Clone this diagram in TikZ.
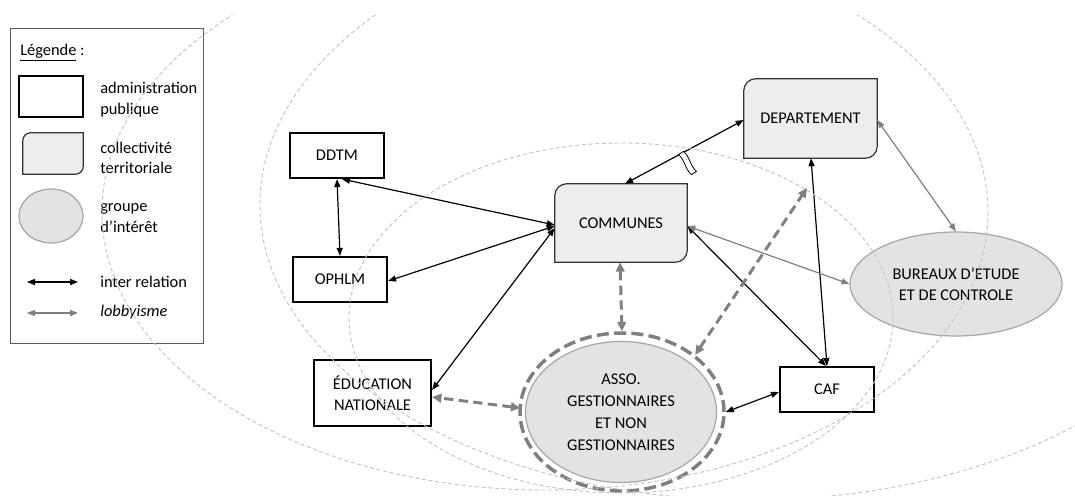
\documentclass[tikz,border=0pt]{standalone}
\usepackage{fontspec}
\setmainfont{Carlito}
\usetikzlibrary{arrows.meta,calc,shapes.geometric}
\newdimen\pxu \pxu=0.75pt
\definecolor{collfill}{HTML}{EDEDED}
\definecolor{grpfill}{HTML}{E3E3E3}
\definecolor{lobby}{HTML}{7F7F7F}
\definecolor{bgarc}{HTML}{C4C4C4}
\newcommand\mycollbox[6]{%
  \node[minimum width=#4\pxu,minimum height=#5\pxu,inner sep=0pt] (#1) at (#2,#3) {};
  \draw[collline] (#1.south west) -- ($(#1.north west)+(0,#6)$) arc[start angle=180,end angle=270,radius=#6] -- (#1.north east) -- ($(#1.south east)+(0,-#6)$) arc[start angle=0,end angle=90,radius=#6] -- cycle;}
\begin{document}
\begin{tikzpicture}[x=0.75pt,y=-0.75pt,
  every node/.style={font=\fontsize{12.3}{15.5}\selectfont},
  admin/.style={draw=black,line width=1.6pt,fill=white,inner sep=0pt,align=center},
  collline/.style={draw=black!80,line width=0.9pt,fill=collfill},
  grp/.style={ellipse,draw=black!35,line width=0.9pt,fill=grpfill,inner sep=0pt,align=center},
  rel/.style={black,line width=0.9pt,{Triangle[length=6pt,width=4.5pt]}-{Triangle[length=6pt,width=4.5pt]}},
  lob/.style={lobby,line width=0.9pt,{Triangle[length=6pt,width=4.5pt]}-{Triangle[length=6pt,width=4.5pt]}},
  lobd/.style={lobby,line width=2.2pt,dash pattern=on 7pt off 4pt,{Triangle[length=7pt,width=6.5pt]}-{Triangle[length=7pt,width=6.5pt]}},
  bg/.style={bgarc,line width=0.7pt,dash pattern=on 3pt off 2pt},
  lab/.style={anchor=west,align=left,inner sep=0pt},
  txt/.style={align=center,inner sep=0pt},
]
\fill[white] (0,0) rectangle (1075,496);
\useasboundingbox (0,0) rectangle (1075,496);

% ---------- legend ----------
\node[draw=black!65,line width=0.6pt,minimum width=193\pxu,minimum height=315\pxu,inner sep=0pt] (legend) at (106.5,185.5) {};
\node[lab] (lgtitle) at (20,53) {\underline{Légende} :};
\node[admin,minimum width=64\pxu,minimum height=41\pxu] (lgadmin) at (51,96.5) {};
\node[lab] (lgadmintxt) at (100,99.5) {administration\\publique};
\mycollbox{lgcoll}{53}{153.5}{60}{41}{8}
\node[lab] (lgcolltxt) at (100,158) {collectivité\\territoriale};
\node[grp,minimum width=64\pxu,minimum height=54\pxu] (lggrp) at (51,216) {};
\node[lab] (lggrptxt) at (100,218) {groupe\\d’intérêt};
\coordinate (lga1) at (27,282); \coordinate (lga2) at (78,282);
\draw[rel] (lga1) -- (lga2);
\node[lab] (lgreltxt) at (100,282) {inter relation};
\coordinate (lgb1) at (27,313); \coordinate (lgb2) at (78,313);
\draw[lob] (lgb1) -- (lgb2);
\node[lab] (lglobtxt) at (100,312) {\itshape lobbyisme};

% ---------- nodes ----------
\node[admin,minimum width=94\pxu,minimum height=45\pxu] (ddtm) at (337,155.5) {DDTM};
\node[admin,minimum width=94\pxu,minimum height=45\pxu] (ophlm) at (340,279.5) {OPHLM};
\node[admin,minimum width=117\pxu,minimum height=66\pxu] (educ) at (372.5,393) {ÉDUCATION\\NATIONALE};
\node[admin,minimum width=94\pxu,minimum height=45\pxu] (caf) at (827,389.5) {CAF};
\mycollbox{comm}{621}{223}{132}{78}{12}
\node[txt] (commt) at (comm) {COMMUNES};
\mycollbox{dept}{810.5}{118.5}{133}{79}{12}
\node[txt] (deptt) at (dept) {DEPARTEMENT};
\node[grp,minimum width=212\pxu,minimum height=104\pxu] (bur) at (956,284) {BUREAUX D’ETUDE\\ET DE CONTROLE};
\node[grp,minimum width=191\pxu,minimum height=141\pxu,font=\fontsize{12.3}{16.5}\selectfont] (asso) at (621,412) {ASSO.\\GESTIONNAIRES\\ET NON\\GESTIONNAIRES};
\node[ellipse,draw=lobby,line width=2.6pt,dash pattern=on 9pt off 4pt,minimum width=204\pxu,minimum height=158\pxu,inner sep=0pt] (assoo) at (622,412) {};

% ---------- connectors ----------
\draw[rel] (ddtm.south) -- (ophlm.north);
\draw[rel] ($(ddtm.south)+(5,0)$) -- ($(comm.west)+(0,2)$);
\draw[rel] ($(ophlm.east)+(0,1.5)$) -- ($(comm.west)+(0,3)$);
\draw[rel] ($(educ.east)+(0,-3)$) -- ($(comm.west)+(0,5)$);
\draw[rel] ($(comm.north)+(4,0)$) -- ($(dept.west)+(0,1.5)$);
\draw[rel] ($(comm.east)+(0,3)$) -- ($(caf.north)+(-1,0)$);
\draw[rel] ($(dept.south)+(0.5,0)$) -- (caf.north);
\draw[lob] ($(dept.east)+(0,1.5)$) -- (bur.north);
\draw[lob] ($(comm.east)+(0,3)$) -- (bur.west);
\draw[rel] (assoo.east) -- ($(caf.west)+(0,2.5)$);
\coordinate (lobdep) at (807,188);
\draw[lobd] ($(comm.south)+(-1,0)$) -- (assoo.north);
\draw[lobd] (assoo.38) -- (lobdep);
\draw[lobd] ($(assoo.west)+(2,-4)$) -- ($(educ.east)+(0,4)$);

% break mark
\draw[black,line width=0.6pt,fill=white] (678.5,154.6) .. controls (684.9,159.9) and (685.1,169.3) .. (691.5,174.6) -- (696.5,171.4) .. controls (690.1,166.0) and (689.9,156.6) .. (683.5,151.4) -- cycle;

% ---------- background arcs ----------
\begin{scope}
\clip (0,15) rectangle (1075,496);
\draw[bg] (545,212) ellipse [x radius=443, y radius=278];
\draw[bg] (750,205) ellipse [x radius=490, y radius=295];
\draw[bg] (621,318) ellipse [x radius=272, y radius=175];
\end{scope}
\end{tikzpicture}
\end{document}
